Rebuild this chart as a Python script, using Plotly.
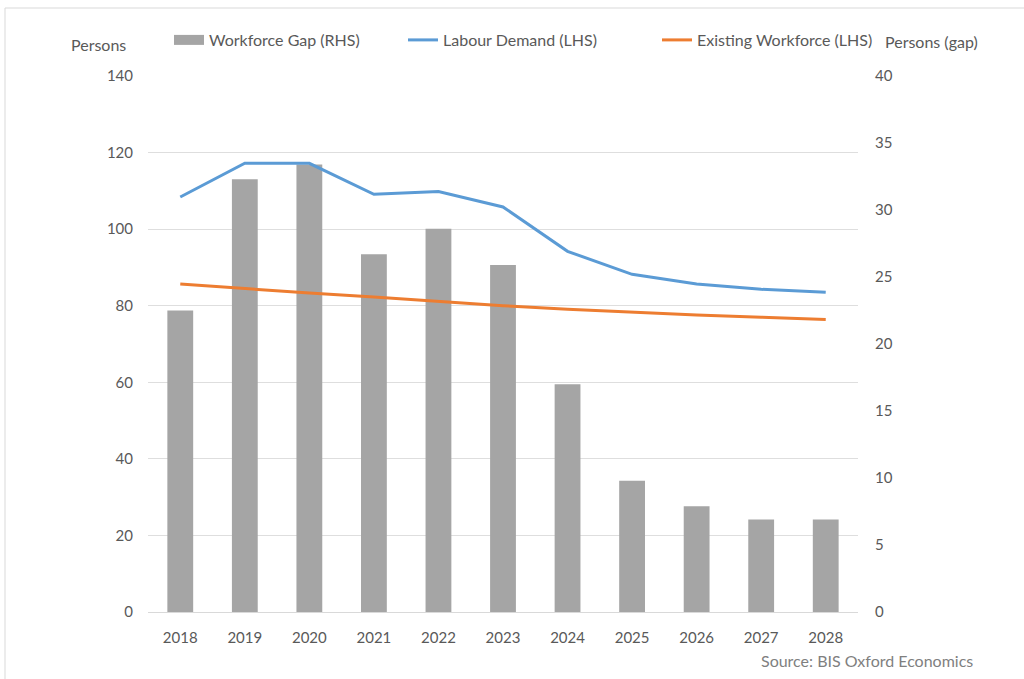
import plotly.graph_objects as go

# Data
years = ["2018", "2019", "2020", "2021", "2022", "2023", "2024", "2025", "2026", "2027", "2028"]
workforce_gap = [22.5, 32.3, 33.4, 26.7, 28.6, 25.9, 17.0, 9.8, 7.9, 6.9, 6.9]
labour_demand = [108.4, 117.2, 117.2, 109.1, 109.8, 105.8, 94.2, 88.2, 85.7, 84.3, 83.5]
existing_workforce = [85.7, 84.5, 83.3, 82.3, 81.1, 80.0, 79.1, 78.3, 77.6, 77.0, 76.4]

FONT = "Lato"
TXT = "#595959"
GREY = "#A5A5A5"

fig = go.Figure()

# Bars on the right-hand axis (primary y, placed on the right)
fig.add_trace(go.Bar(
    x=years, y=workforce_gap, name="Workforce Gap (RHS)",
    marker=dict(color=GREY, line=dict(width=0)),
    yaxis="y", showlegend=False,
))
# Legend key for the bars: a wide grey block
fig.add_trace(go.Scatter(
    x=[None], y=[None], name="Workforce Gap (RHS)", mode="lines",
    line=dict(color=GREY, width=10), yaxis="y", legend="legend",
))

# Lines on the left-hand axis (overlay so they sit above the bars)
fig.add_trace(go.Scatter(
    x=years, y=labour_demand, name="Labour Demand (LHS)", mode="lines",
    line=dict(color="#5B9BD5", width=3), yaxis="y2", legend="legend2",
))
fig.add_trace(go.Scatter(
    x=years, y=existing_workforce, name="Existing Workforce (LHS)", mode="lines",
    line=dict(color="#ED7D31", width=3), yaxis="y2", legend="legend3",
))

legend_common = dict(
    orientation="h", xref="paper", yref="paper", xanchor="left", yanchor="middle",
    font=dict(family=FONT, size=16, color=TXT), bgcolor="rgba(0,0,0,0)",
    itemwidth=30,
)
leg_y = 1 + (76 - 40) / 536

fig.update_layout(
    width=1024, height=679,
    margin=dict(l=148, r=166, t=76, b=67),
    paper_bgcolor="white", plot_bgcolor="white",
    bargap=0.6,
    font=dict(family=FONT, size=15, color=TXT),
    xaxis=dict(
        type="category", showgrid=False, showline=True, linecolor="#D9D9D9",
        linewidth=1, ticks="", tickfont=dict(size=15, color=TXT),
        ticklabelstandoff=12,
    ),
    yaxis=dict(
        side="right", range=[0, 40], dtick=5, showgrid=False, zeroline=False,
        showline=False, tickfont=dict(size=15, color=TXT), ticklabelstandoff=16,
    ),
    yaxis2=dict(
        side="left", overlaying="y", range=[0, 140], dtick=20, showgrid=True,
        gridcolor="#DEDEDE", gridwidth=1, zeroline=False, showline=False,
        tickfont=dict(size=15, color=TXT), ticklabelstandoff=14,
    ),
    legend=dict(x=(169 - 148) / 710, y=leg_y, **legend_common),
    legend2=dict(x=(403 - 148) / 710, y=leg_y, **legend_common),
    legend3=dict(x=(657 - 148) / 710, y=leg_y, **legend_common),
    showlegend=True,
)

# Axis titles and source note
fig.add_annotation(text="Persons", xref="paper", yref="paper",
                   x=-(148 - 69) / 710, y=1 + (76 - 44) / 536,
                   xanchor="left", yanchor="middle", showarrow=False,
                   font=dict(family=FONT, size=16, color=TXT))
fig.add_annotation(text="Persons (gap)", xref="paper", yref="paper",
                   x=1 + (883 - 858) / 710, y=1 + (76 - 42) / 536,
                   xanchor="left", yanchor="middle", showarrow=False,
                   font=dict(family=FONT, size=16, color=TXT))
fig.add_annotation(text="Source: BIS Oxford Economics", xref="paper", yref="paper",
                   x=1 + (975 - 858) / 710, y=-(660 - 612) / 536,
                   xanchor="right", yanchor="middle", showarrow=False,
                   font=dict(family=FONT, size=16, color="#7F7F7F"))

# Chart frame
fig.add_shape(type="rect", xref="paper", yref="paper",
              x0=-(148 - 5) / 710, x1=1 + (1030 - 858) / 710,
              y0=-(700 - 612) / 536, y1=1 + (76 - 8) / 536,
              line=dict(color="#D9D9D9", width=1), layer="below")

fig.write_html("out.html")
